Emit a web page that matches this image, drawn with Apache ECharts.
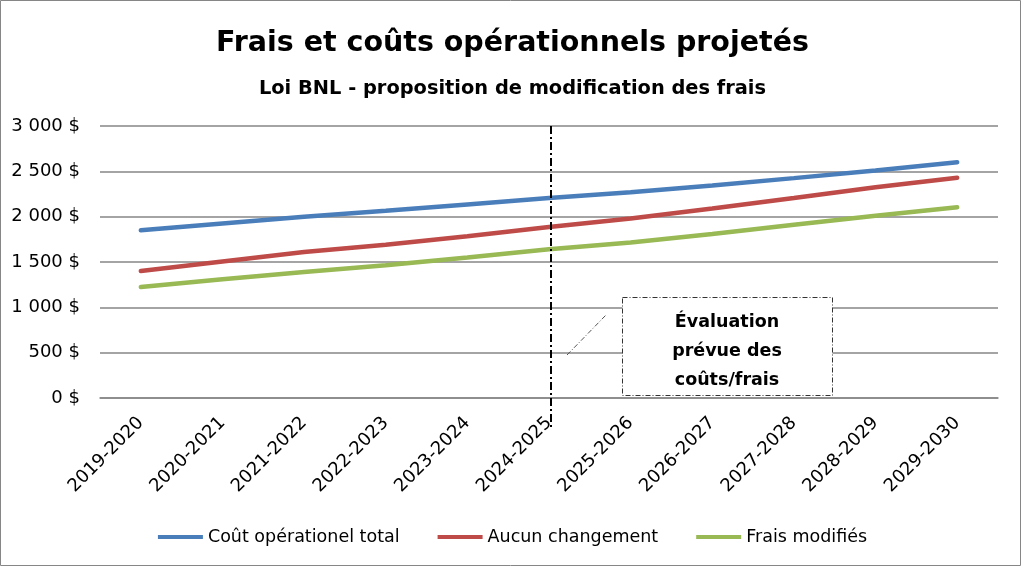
<!DOCTYPE html>
<html><head><meta charset="utf-8">
<script src="https://cdn.jsdelivr.net/npm/echarts@6/dist/echarts.min.js"></script>
<style>html,body{margin:0;padding:0;background:#fff}#c{width:1025px;height:569px}</style>
</head><body><div id="c"></div>
<script>
const categories = ['2019-2020','2020-2021','2021-2022','2022-2023','2023-2024','2024-2025','2025-2026','2026-2027','2027-2028','2028-2029','2029-2030'];
const coutTotal = [1850, 1925, 2000, 2065, 2135, 2205, 2270, 2345, 2425, 2510, 2600];
const aucunChangement = [1400, 1505, 1610, 1690, 1785, 1885, 1980, 2090, 2205, 2325, 2430];
const fraisModifies = [1225, 1310, 1390, 1465, 1550, 1640, 1715, 1810, 1910, 2010, 2105];
const yTicks = [0, 500, 1000, 1500, 2000, 2500, 3000];
const markerCategory = '2024-2025';
const FONT = '"DejaVu Sans", sans-serif';

const chart = echarts.init(document.getElementById('c'));
const fmt = v => (v >= 1000 ? Math.floor(v/1000) + ' ' + String(v%1000).padStart(3,'0') : String(v)) + ' $';
chart.setOption({
  animation: false,
  textStyle: {fontFamily: FONT},
  title: [
    {text: 'Frais et coûts opérationnels projetés', left: 'center', top: 24,
     textStyle: {fontFamily: FONT, fontSize: 28.5, fontWeight: 'bold', color: '#000'}},
    {text: 'Loi BNL - proposition de modification des frais', left: 'center', top: 74,
     textStyle: {fontFamily: FONT, fontSize: 19.4, fontWeight: 'bold', color: '#000'}}
  ],
  grid: {left: 100, right: 27, top: 126, bottom: 171, containLabel: false},
  legend: {
    bottom: 18, left: 'center', itemWidth: 45, itemHeight: 4, itemGap: 38,
    icon: 'rect',
    textStyle: {fontFamily: FONT, fontSize: 17.5, color: '#000'},
    data: ['Coût opérationel total', 'Aucun changement', 'Frais modifiés']
  },
  xAxis: {
    type: 'category', data: categories, boundaryGap: true,
    axisLine: {show: true, lineStyle: {color: '#868686', width: 1.5}},
    axisTick: {show: false},
    axisLabel: {rotate: 45, fontSize: 18, color: '#000', fontFamily: FONT, margin: 22, interval: 0}
  },
  yAxis: {
    type: 'value', min: yTicks[0], max: yTicks[yTicks.length-1], interval: 500,
    axisLine: {show: false}, axisTick: {show: false},
    splitLine: {lineStyle: {color: '#868686', width: 1.5}},
    axisLabel: {formatter: fmt, fontSize: 18, color: '#000', fontFamily: FONT, margin: 20}
  },
  series: [
    {name: 'Coût opérationel total', type: 'line', data: coutTotal, symbol: 'none', lineStyle: {width: 4.5, color: '#4A7EBB', cap: 'round'}, itemStyle: {color: '#4A7EBB'}},
    {name: 'Aucun changement', type: 'line', data: aucunChangement, symbol: 'none', lineStyle: {width: 4.5, color: '#BE4B48', cap: 'round'}, itemStyle: {color: '#BE4B48'}},
    {name: 'Frais modifiés', type: 'line', data: fraisModifies, symbol: 'none', lineStyle: {width: 4.5, color: '#98B954', cap: 'round'}, itemStyle: {color: '#98B954'}}
  ]
});

const mx = chart.convertToPixel({xAxisIndex: 0}, markerCategory) + 2;
const yTop = chart.convertToPixel({yAxisIndex: 0}, yTicks[yTicks.length-1]);
const dashDot = [8, 3, 2, 3];
chart.setOption({
  graphic: [
    {type: 'rect', shape: {x: 0.5, y: 0.5, width: 1020, height: 565}, style: {fill: 'none', stroke: '#868686', lineWidth: 1}, silent: true, z: 0},
    {type: 'line', shape: {x1: mx, y1: yTop, x2: mx, y2: 430}, style: {stroke: '#000', lineWidth: 2, lineDash: dashDot}, z: 10},
    {type: 'line', shape: {x1: 567, y1: 355, x2: 606, y2: 315}, style: {stroke: '#555', lineWidth: 1, lineDash: [5, 2, 1, 2]}, z: 10},
    {type: 'rect', shape: {x: 622.5, y: 297.5, width: 210, height: 98}, style: {fill: '#fff', stroke: '#333', lineWidth: 1, lineDash: [5, 2, 1, 2]}, z: 10},
    {type: 'text', x: 727, y: 351, style: {text: 'Évaluation\nprévue des\ncoûts/frais', fontFamily: FONT, fontSize: 17.5, fontWeight: 'bold', fill: '#000', align: 'center', verticalAlign: 'middle', lineHeight: 29}, z: 11}
  ]
});
</script></body></html>
